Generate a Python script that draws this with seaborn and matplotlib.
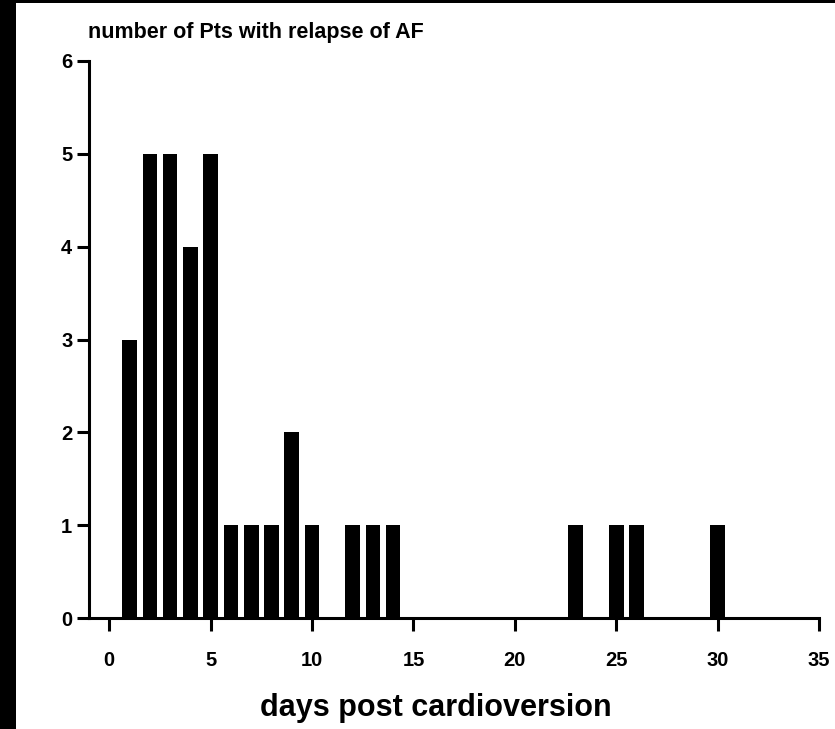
import matplotlib
matplotlib.use("Agg")
import matplotlib.pyplot as plt
from matplotlib.patches import Rectangle
import seaborn as sns
import pandas as pd

days = [1, 2, 3, 4, 5, 6, 7, 8, 9, 10, 12, 13, 14, 23, 25, 26, 30]
patients = [3, 5, 5, 4, 5, 1, 1, 1, 2, 1, 1, 1, 1, 1, 1, 1, 1]
x_ticks = [0, 5, 10, 15, 20, 25, 30, 35]
y_ticks = [0, 1, 2, 3, 4, 5, 6]

sns.set_theme(style="ticks")
plt.rcParams['font.family'] = ['Liberation Sans', 'DejaVu Sans']
plt.rcParams['font.weight'] = 'bold'
plt.rcParams['text.color'] = 'black'
plt.rcParams['xtick.color'] = 'black'
plt.rcParams['ytick.color'] = 'black'
plt.rcParams['xtick.labelcolor'] = 'black'
plt.rcParams['ytick.labelcolor'] = 'black'

W, H = 835, 729
fig = plt.figure(figsize=(W / 100, H / 100), dpi=100)
fig.patch.set_facecolor("white")
ax = fig.add_axes([89 / W, 1 - 618 / H, (819 - 89) / W, (618 - 61) / H])

df = pd.DataFrame({"day": days, "n": patients})
sns.barplot(data=df, x="day", y="n", native_scale=True, width=0.72,
            color="black", saturation=1, linewidth=0, ax=ax)

ax.set_xlim(-1, 35)
ax.set_ylim(0, 6)
ax.set_xticks(x_ticks)
ax.set_yticks(y_ticks)
ax.set_xticklabels([str(v) for v in x_ticks], fontsize=14.5, fontweight="bold", color="black")
ax.set_yticklabels([str(v) for v in y_ticks], fontsize=14.5, fontweight="bold", color="black")
ax.set_xlabel("")
ax.set_ylabel("")
for s in ["top", "right"]:
    ax.spines[s].set_visible(False)
for s in ["left", "bottom"]:
    ax.spines[s].set_linewidth(2.2)
    ax.spines[s].set_color("black")
ax.tick_params(axis="both", direction="out", length=9, width=2.2, colors="black")
ax.tick_params(axis="x", pad=15)
ax.tick_params(axis="y", pad=3)
ax.set_facecolor("white")

fig.text(88 / W, 1 - 38 / H, "number of Pts with relapse of AF", fontsize=15.5,
         fontweight="bold", ha="left", va="baseline", color="black")
fig.text(436 / W, 1 - 716 / H, "days post cardioversion", fontsize=22,
         fontweight="bold", ha="center", va="baseline", color="black")

fig.add_artist(Rectangle((0, 0), 16 / W, 1, transform=fig.transFigure,
                         facecolor="black", edgecolor="none"))
fig.add_artist(Rectangle((0, 1 - 3 / H), 1, 3 / H, transform=fig.transFigure,
                         facecolor="black", edgecolor="none"))

fig.savefig("out.png", dpi=100)
